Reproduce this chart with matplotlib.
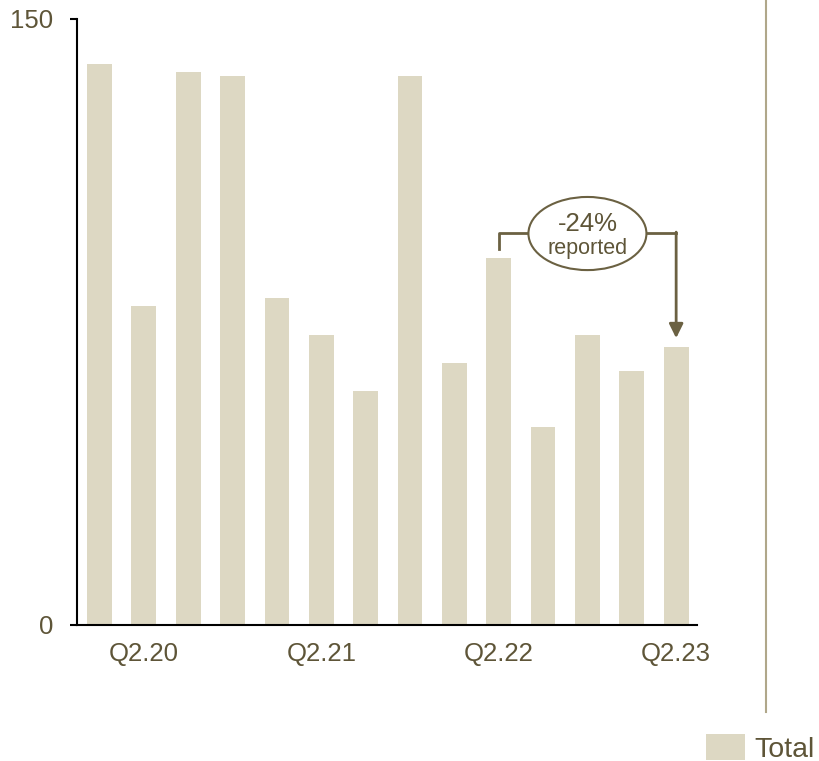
import matplotlib
matplotlib.use("Agg")
import matplotlib.pyplot as plt
from matplotlib.patches import Ellipse
from matplotlib.lines import Line2D

plt.rcParams['font.family'] = ['Liberation Sans', 'DejaVu Sans']

values = [138.9, 79.0, 136.9, 135.9, 80.9, 71.8, 57.9, 135.9, 64.9, 90.8, 49.0, 71.8, 62.9, 68.8]
tick_positions = [1, 5, 9, 13]
tick_labels = ["Q2.20", "Q2.21", "Q2.22", "Q2.23"]
series_name = "Total"
change_label = "-24%"
change_sub = "reported"

bar_color = "#ddd8c3"
text_color = "#5e5538"
annot_color = "#6b6142"

fig = plt.figure(figsize=(8.2, 7.61), dpi=100)
ax = fig.add_axes([77/820, 136/761, 620/820, 606/761])

x = list(range(len(values)))
ax.bar(x, values, width=0.56, color=bar_color, label=series_name)
ax.set_xlim(-0.507, 13.47)
ax.set_ylim(0, 150)

for s in ["top", "right"]:
    ax.spines[s].set_visible(False)
for s in ["left", "bottom"]:
    ax.spines[s].set_linewidth(1.5)
    ax.spines[s].set_color("black")

ax.set_yticks([0, 150])
ax.set_yticklabels(["0", "150"])
ax.tick_params(axis='y', length=5, width=1.5, color='black', pad=12,
               labelsize=18.5, labelcolor=text_color)
ax.set_xticks(tick_positions)
ax.set_xticklabels(tick_labels)
ax.tick_params(axis='x', length=0, pad=12, labelsize=18.5, labelcolor=text_color)

# annotation
i0, i1 = 9, 13
y_line = 97.0
ell_cx, ell_cy = 11.0, 96.9
ell_w, ell_h = 2.66, 18.1
ax.plot([i0, i0, ell_cx - ell_w/2], [93.1, y_line, y_line], color=annot_color, lw=2, clip_on=False)
ax.plot([ell_cx + ell_w/2, i1], [y_line, y_line], color=annot_color, lw=2, clip_on=False)
ax.annotate("", xy=(i1, 71.0), xytext=(i1, y_line + 0.25),
            arrowprops=dict(arrowstyle="-|>,head_length=0.85,head_width=0.42",
                            color=annot_color, lw=2, shrinkA=0, shrinkB=0))
ax.add_patch(Ellipse((ell_cx, ell_cy), ell_w, ell_h, facecolor="white",
                     edgecolor=annot_color, lw=1.5, zorder=5))
ax.text(ell_cx, ell_cy + 2.4, change_label, ha='center', va='center',
        fontsize=18.5, color=text_color, zorder=6)
ax.text(ell_cx, ell_cy - 3.8, change_sub, ha='center', va='center',
        fontsize=15.5, color=text_color, zorder=6)

# vertical separator
fig.add_artist(Line2D([766/820, 766/820], [(761-712)/761, 1.0],
                      color="#b0a78a", lw=1.5, transform=fig.transFigure))

leg = fig.legend(loc='lower right', bbox_to_anchor=(815/820, -0.002), frameon=False,
                 fontsize=20.5, handlelength=1.37, handleheight=1.02, handletextpad=0.35,
                 borderpad=0, borderaxespad=0)
for t in leg.get_texts():
    t.set_color(text_color)

fig.savefig("out.png", dpi=100)
